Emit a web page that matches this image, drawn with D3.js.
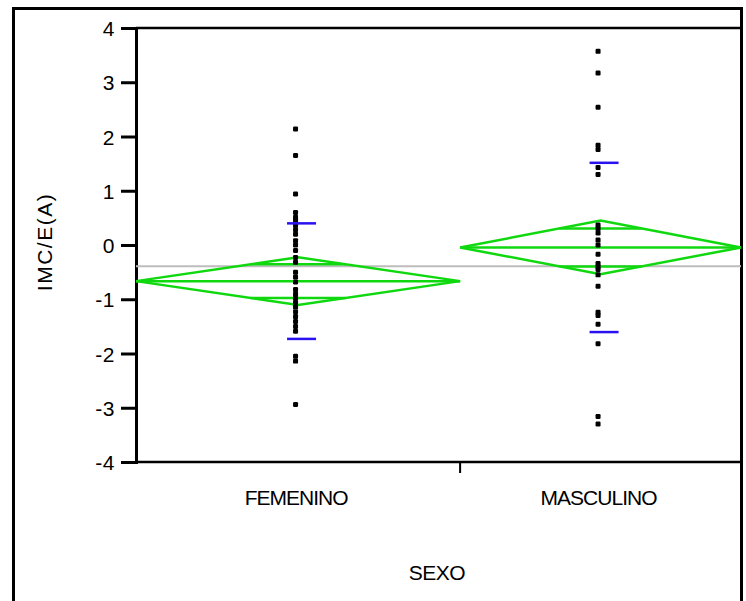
<!DOCTYPE html>
<html>
<head>
    <meta charset="UTF-8">
    <title>IMC/E(A) por SEXO</title>
    <script src="https://d3js.org/d3.v7.min.js"></script>
    <style>
        body { margin: 0; background: #fff; }
        text { font-family: "Liberation Sans", Arial, sans-serif; fill: #000; }
    </style>
</head>
<body>
    <div id="chart"></div>

    <script type="text/javascript">

        // categories and group sizes (x axis proportional to n)
        let groups = ["FEMENINO", "MASCULINO"];
        let groupN = [30, 26];

        // individual values
        let femenino = [2.14, 1.65, 0.94, 0.60, 0.51, 0.45, 0.36, 0.28, 0.20, 0.08, 0.00, -0.10,
            -0.23, -0.32, -0.50, -0.59, -0.68, -0.82, -0.90, -0.98, -1.06, -1.14, -1.23, -1.32,
            -1.41, -1.50, -1.59, -2.05, -2.14, -2.94];
        let masculino = [3.57, 3.17, 2.54, 1.84, 1.76, 1.43, 1.30, 0.37, 0.30, 0.22, 0.09, 0.00,
            -0.17, -0.34, -0.40, -0.45, -0.55, -0.76, -1.24, -1.30, -1.46, -1.82, -3.16, -3.30];

        // summary stats per group (means diamonds, std dev lines)
        let groupMean = [-0.666, -0.045];
        let ciHalf = [0.44, 0.495];
        let stdDev = [1.065, 1.56];
        let grandMean = -0.393;

        let yTicks = [4, 3, 2, 1, 0, -1, -2, -3, -4];

        let margin = { top: 28, right: 5, bottom: 139, left: 136 },
            W = 746, H = 601;

        let svg = d3.select("#chart")
            .append("svg")
            .attr("width", W)
            .attr("height", H);

        let y = d3.scaleLinear()
            .domain([-4, 4])
            .range([H - margin.bottom, margin.top]);

        let total = d3.sum(groupN);
        let x = d3.scaleLinear()
            .domain([0, total])
            .range([margin.left, W - margin.right]);

        let edges = [0, groupN[0], total];
        let centers = groups.map((g, i) => (x(edges[i]) + x(edges[i + 1])) / 2);

        // outer frame
        svg.append("rect")
            .attr("x", 13.5).attr("y", 8.5)
            .attr("width", 728).attr("height", 600)
            .attr("fill", "none").attr("stroke", "#000").attr("stroke-width", 3);

        // plot frame top line + bottom axis line
        svg.append("line")
            .attr("x1", margin.left).attr("x2", W - margin.right)
            .attr("y1", y(4)).attr("y2", y(4))
            .attr("stroke", "#000").attr("stroke-width", 2.5);
        svg.append("line")
            .attr("x1", margin.left).attr("x2", W - margin.right)
            .attr("y1", y(-4)).attr("y2", y(-4))
            .attr("stroke", "#000").attr("stroke-width", 2.5);
        // separator tick between groups
        svg.append("line")
            .attr("x1", x(groupN[0])).attr("x2", x(groupN[0]))
            .attr("y1", y(-4)).attr("y2", y(-4) + 11)
            .attr("stroke", "#000").attr("stroke-width", 2);

        // y axis
        let yAxis = svg.append("g")
            .attr("transform", "translate(" + margin.left + ",0)")
            .call(d3.axisLeft(y).tickValues(yTicks).tickSize(15).tickPadding(6)
                .tickFormat(d => d < 0 ? "-" + Math.abs(d) : String(d)));
        yAxis.select(".domain").attr("stroke-width", 3);
        yAxis.selectAll(".tick line").attr("stroke-width", 3);
        yAxis.selectAll(".tick text")
            .style("font-size", "21px")
            .style("letter-spacing", "0.5px")
            .style("font-family", "'Liberation Sans', Arial, sans-serif")
            .attr("dy", "0.36em");

        // grand mean line
        svg.append("line")
            .attr("x1", margin.left).attr("x2", W - margin.right)
            .attr("y1", y(grandMean)).attr("y2", y(grandMean))
            .attr("stroke", "#bdbdbd").attr("stroke-width", 2);

        // means diamonds
        let green = "#0fd80f";
        groups.forEach(function (g, i) {
            let x0 = x(edges[i]), x1 = x(edges[i + 1]), cx = centers[i];
            let m = groupMean[i], ci = ciHalf[i];
            let pts = [[x0, y(m)], [cx, y(m + ci)], [x1, y(m)], [cx, y(m - ci)]];
            svg.append("path")
                .attr("d", d3.line()(pts) + "Z")
                .attr("fill", "none").attr("stroke", green).attr("stroke-width", 2.5);
            svg.append("line")
                .attr("x1", x0).attr("x2", x1)
                .attr("y1", y(m)).attr("y2", y(m))
                .attr("stroke", green).attr("stroke-width", 2.5);
            // overlap marks at m +/- ci/sqrt(2), spanning the diamond at that height
            let ov = ci / Math.SQRT2, frac = 1 - ov / ci;
            [m + ov, m - ov].forEach(function (v) {
                svg.append("line")
                    .attr("x1", cx - (cx - x0) * frac).attr("x2", cx + (x1 - cx) * frac)
                    .attr("y1", y(v)).attr("y2", y(v))
                    .attr("stroke", green).attr("stroke-width", 2.5);
            });
        });

        // points
        [femenino, masculino].forEach(function (vals, i) {
            svg.selectAll(".pt" + i)
                .data(vals)
                .enter()
                .append("rect")
                .attr("x", centers[i] - 5)
                .attr("y", d => y(d) - 2.5)
                .attr("width", 5).attr("height", 5)
                .attr("rx", 1.2)
                .attr("fill", "#000");
        });

        // std dev lines
        groups.forEach(function (g, i) {
            [groupMean[i] + stdDev[i], groupMean[i] - stdDev[i]].forEach(function (v) {
                svg.append("line")
                    .attr("x1", centers[i] - 11).attr("x2", centers[i] + 18)
                    .attr("y1", y(v)).attr("y2", y(v))
                    .attr("stroke", "#2a12f0").attr("stroke-width", 2.5);
            });
        });

        // category labels
        svg.selectAll(".cat")
            .data(groups)
            .enter()
            .append("text")
            .attr("x", (d, i) => centers[i] - 2)
            .attr("y", 505)
            .attr("text-anchor", "middle")
            .style("font-size", "21px")
            .style("letter-spacing", "-1px")
            .text(d => d);

        // axis titles
        svg.append("text")
            .attr("x", 437).attr("y", 580)
            .attr("text-anchor", "middle")
            .style("font-size", "21px")
            .style("letter-spacing", "-0.5px")
            .text("SEXO");

        svg.append("text")
            .attr("transform", "translate(52,242) rotate(-90)")
            .attr("text-anchor", "middle")
            .style("font-size", "21px")
            .style("letter-spacing", "1.5px")
            .text("IMC/E(A)");

    </script>
</body>
</html>
